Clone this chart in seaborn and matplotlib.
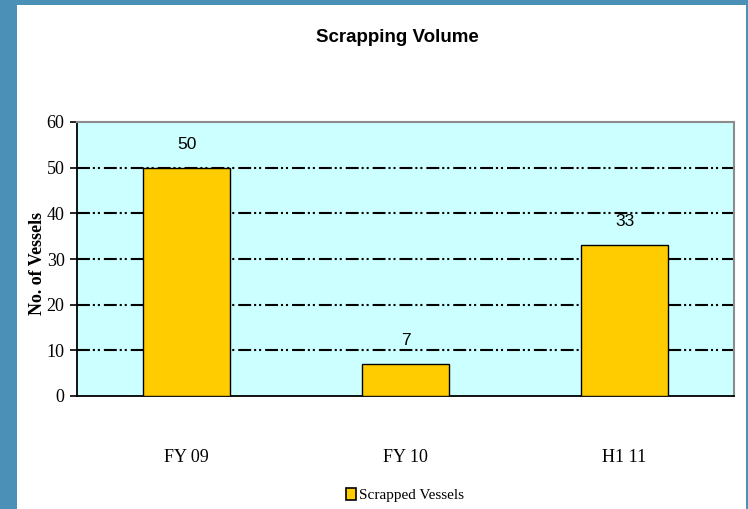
import matplotlib
matplotlib.use("Agg")
import matplotlib.pyplot as plt
from matplotlib.patches import Rectangle, Patch
import seaborn as sns
import pandas as pd

# Chart data
periods = ["FY 09", "FY 10", "H1 11"]
scrapped_vessels = [50, 7, 33]
y_ticks = [0, 10, 20, 30, 40, 50, 60]

sns.set_theme(style="white")
plt.rcParams["font.family"] = ["Liberation Serif", "DejaVu Serif"]
plt.rcParams.update({"text.color": "black", "axes.labelcolor": "black",
                     "xtick.color": "black", "ytick.color": "black"})

df = pd.DataFrame({"period": periods, "vessels": scrapped_vessels})

fig = plt.figure(figsize=(7.48, 5.09), dpi=100)
fig.patch.set_facecolor("white")

# Blue frame around the slide area
frame_blue = "#4b90b6"
fig.patches.append(Rectangle((0, 0), 17 / 748, 1, transform=fig.transFigure,
                             facecolor=frame_blue, edgecolor="none", zorder=0))
fig.patches.append(Rectangle((0, 1 - 5 / 509), 1, 5 / 509, transform=fig.transFigure,
                             facecolor=frame_blue, edgecolor="none", zorder=0))
fig.patches.append(Rectangle((746 / 748, 0), 2 / 748, 1, transform=fig.transFigure,
                             facecolor=frame_blue, edgecolor="none", zorder=0))

ax = fig.add_axes([77 / 748, 1 - 396 / 509, (734 - 77) / 748, (396 - 122) / 509])
ax.set_facecolor("#CCFFFF")

sns.barplot(data=df, x="period", y="vessels", color="#FFCC00", width=0.4,
            edgecolor="black", linewidth=1.0, saturation=1, ax=ax, zorder=3)

ax.set_xlim(-0.5, 2.5)
ax.set_ylim(0, 60)
ax.set_yticks(y_ticks)
ax.set_yticklabels([str(t) for t in y_ticks], fontsize=13)

# Dash-dot-dot gridlines
for t in y_ticks[1:-1]:
    ax.axhline(t, color="black", linewidth=1.5,
               linestyle=(0, (6.2, 1.4, 1.0, 1.4, 1.0, 1.9)), zorder=1)

# Category ticks between groups
ax.set_xticks(range(len(periods)))
ax.set_xticklabels(periods, fontsize=13)
ax.set_xticks([-0.5, 0.5, 1.5, 2.5], minor=True)
ax.tick_params(axis="x", which="major", length=0, pad=38)
ax.tick_params(axis="x", which="minor", length=5, width=1.2, color="black", direction="out")
ax.tick_params(axis="y", length=5, width=1.2, color="black", direction="out", left=True, pad=4)

for side in ["left", "bottom"]:
    ax.spines[side].set_color("black")
    ax.spines[side].set_linewidth(1.3)
for side in ["top", "right"]:
    ax.spines[side].set_color("#8c8c8c")
    ax.spines[side].set_linewidth(1.5)

ax.set_xlabel("")
ax.set_ylabel("No. of Vessels", fontsize=13, fontweight="bold", labelpad=0)
ax.yaxis.set_label_coords(-0.047, 0.485)

# Value labels above bars
for i, v in enumerate(scrapped_vessels):
    ax.annotate(str(v), (i, v), xytext=(0, 17), textcoords="offset points",
                ha="center", va="center", fontsize=12.5, color="black",
                family=["Liberation Sans", "DejaVu Sans"])

fig.text(397 / 748, 1 - 38 / 509, "Scrapping Volume", ha="center", va="center",
         fontsize=13.5, fontweight="bold", color="black",
         family=["Liberation Sans", "DejaVu Sans"])

handle = Patch(facecolor="#FFCC00", edgecolor="black", linewidth=1.2)
fig.legend([handle], ["Scrapped Vessels"], loc="center",
           bbox_to_anchor=(405 / 748, 1 - 495 / 509), frameon=False,
           fontsize=11, handlelength=0.6, handleheight=0.9, handletextpad=0.2,
           borderaxespad=0)

fig.savefig("out.png", dpi=100)
